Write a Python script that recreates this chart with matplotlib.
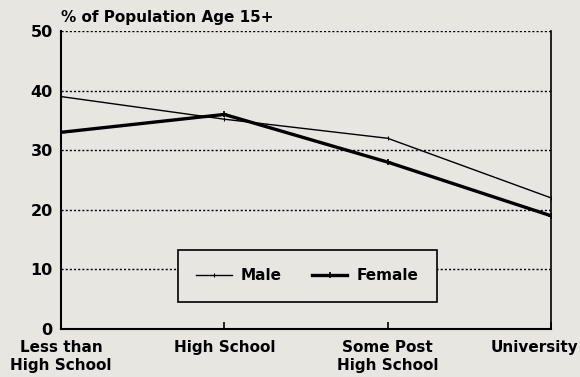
import matplotlib
matplotlib.use("Agg")
import matplotlib.pyplot as plt
from matplotlib.transforms import ScaledTranslation

# Education attainment by sex
categories = ["Less than\nHigh School", "High School", "Some Post\nHigh School", "University"]
male = [39, 35.2, 32, 22]
female = [33, 36, 28, 19]
yticks = [0, 10, 20, 30, 40, 50]

bg = "#e8e6e1"
plt.rcParams["font.family"] = ["DejaVu Sans"]
plt.rcParams["font.weight"] = "bold"

fig = plt.figure(figsize=(5.8, 3.77), dpi=100, facecolor=bg)
ax = fig.add_axes([61 / 580, 48 / 377, 490 / 580, 298 / 377], facecolor=bg)

x = list(range(len(categories)))
ax.plot(x, male, color="black", lw=1.0, marker="|", ms=3, mew=0.8, label="Male")
ax.plot(x, female, color="black", lw=2.4, marker="+", ms=4, mew=1.2, label="Female")

ax.set_xlim(0, len(categories) - 1)
ax.set_ylim(0, 50)

# dotted reference lines
for v in yticks[1:]:
    ax.axhline(v, color="black", lw=1.0, ls=(0, (1.5, 1.5)), zorder=0)

ax.spines["top"].set_visible(False)
ax.spines["left"].set_linewidth(1.5)
ax.spines["bottom"].set_linewidth(1.5)
ax.spines["right"].set_linewidth(1.2)

ax.set_yticks(yticks)
ax.set_yticklabels([str(v) for v in yticks], fontsize=11.5, fontweight="bold")
ax.tick_params(axis="y", length=0, pad=6)

ax.set_xticks(x)
ax.set_xticklabels(categories, fontsize=11, fontweight="bold", linespacing=1.2)
ax.tick_params(axis="x", direction="in", length=5, width=1.2, pad=8)
lbl = ax.get_xticklabels()[-1]
lbl.set_horizontalalignment("right")
lbl.set_transform(lbl.get_transform() + ScaledTranslation(27 / 100, 0, fig.dpi_scale_trans))

ax.text(0, 1.02, "% of Population Age 15+", transform=ax.transAxes, ha="left", va="bottom",
        fontsize=11, fontweight="bold")

leg = ax.legend(loc="center", bbox_to_anchor=(0.503, 0.178), ncol=2, fontsize=11,
                frameon=True, fancybox=False, handlelength=2.3, handletextpad=0.6,
                columnspacing=2.0, borderpad=1.2, markerscale=1.0)
fr = leg.get_frame()
fr.set_edgecolor("black")
fr.set_linewidth(1.2)
fr.set_facecolor(bg)
fr.set_alpha(1)
for t in leg.get_texts():
    t.set_fontweight("bold")

fig.savefig("out.png", dpi=100, facecolor=bg)
